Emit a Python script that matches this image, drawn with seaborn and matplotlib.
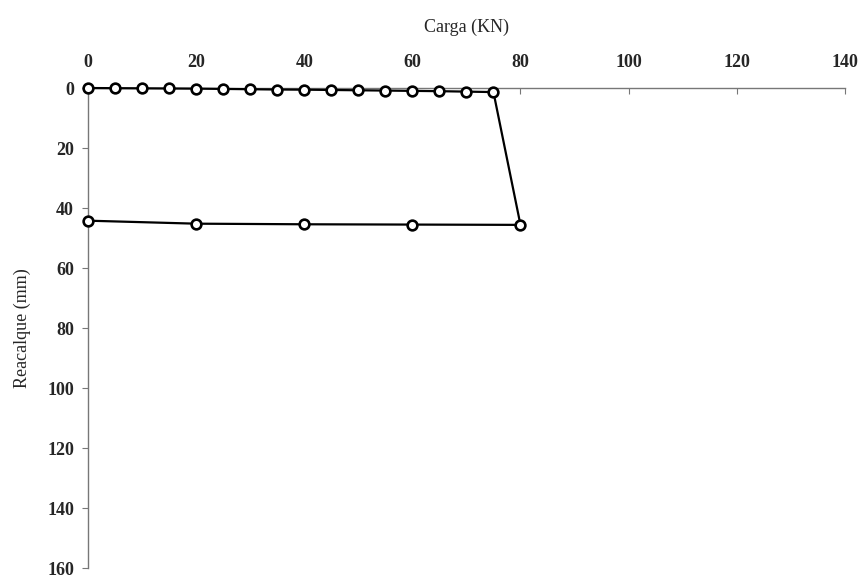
import matplotlib
matplotlib.use("Agg")
import matplotlib.pyplot as plt
import seaborn as sns
import pandas as pd

sns.set_theme(style="white")
plt.rcParams['font.family'] = ['Liberation Serif', 'DejaVu Serif']

carga = [0, 5, 10, 15, 20, 25, 30, 35, 40, 45, 50, 55, 60, 65, 70, 75,
         80, 60, 40, 20, 0]
recalque = [0.0, 0.05, 0.1, 0.15, 0.2, 0.3, 0.4, 0.5, 0.55, 0.65, 0.75, 0.85,
            0.95, 1.05, 1.2, 1.35,
            45.6, 45.5, 45.4, 45.2, 44.2]
x_ticks = [0, 20, 40, 60, 80, 100, 120, 140]
y_ticks = [0, 20, 40, 60, 80, 100, 120, 140, 160]

df = pd.DataFrame({"Carga": carga, "Recalque": recalque})

fig = plt.figure(figsize=(8.65, 5.81), dpi=100)
ax = fig.add_axes([0.1017, 0.022, 0.875, 0.8265])

sns.lineplot(data=df, x="Carga", y="Recalque", sort=False, ax=ax,
             color="black", linewidth=1.6, marker="o", markersize=7,
             markerfacecolor="white", markeredgecolor="black", markeredgewidth=1.9,
             estimator=None, zorder=3, clip_on=False)

ax.set_xlim(0, 140)
ax.set_ylim(160, 0)
ax.set_xticks(x_ticks)
ax.set_yticks(y_ticks)
ax.xaxis.tick_top()
ax.xaxis.set_label_position("top")
ax.set_xlabel("Carga (KN)", fontsize=13, labelpad=16)
ax.set_ylabel("Reacalque (mm)", fontsize=13, labelpad=12)

for s in ["right", "bottom"]:
    ax.spines[s].set_visible(False)
for s in ["top", "left"]:
    ax.spines[s].set_color("#777777")
    ax.spines[s].set_linewidth(1.0)

ax.tick_params(axis="x", direction="in", length=4, width=0.8, color="#777777",
               labelsize=13, pad=12, top=True, bottom=False)
ax.tick_params(axis="y", direction="out", length=4, width=0.8, color="#777777",
               labelsize=13, pad=6, left=True)
for lab in ax.get_xticklabels() + ax.get_yticklabels():
    lab.set_fontweight("bold")

fig.savefig("out.png", dpi=100)
